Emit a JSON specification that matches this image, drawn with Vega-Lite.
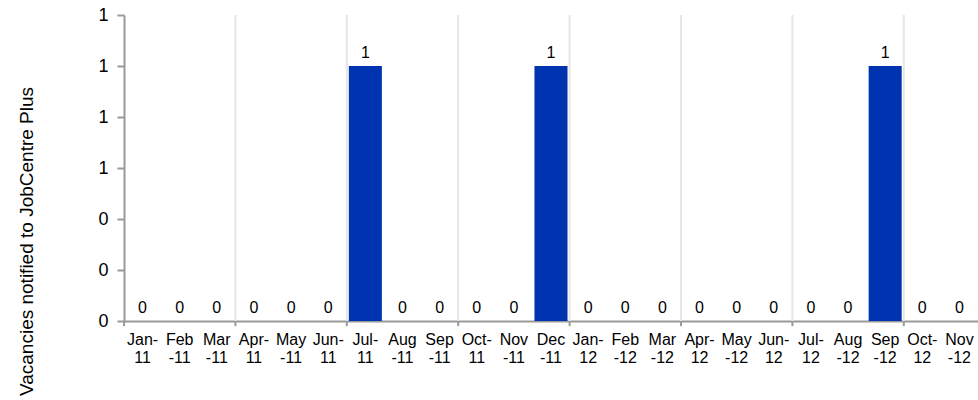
{
  "$schema": "https://vega.github.io/schema/vega-lite/v6.json",
  "width": 854,
  "height": 306,
  "autosize": {"type": "none"},
  "padding": {"left": 124, "top": 15, "right": 0, "bottom": 79},
  "background": "white",
  "config": {
    "view": {"stroke": null},
    "font": "Liberation Sans",
    "axis": {"labelFont": "Liberation Sans", "titleFont": "Liberation Sans", "labelColor": "#000", "titleColor": "#000"}
  },
  "data": {
    "values": [
      {"month": "Jan-11", "vacancies": 0},
      {"month": "Feb-11", "vacancies": 0},
      {"month": "Mar-11", "vacancies": 0},
      {"month": "Apr-11", "vacancies": 0},
      {"month": "May-11", "vacancies": 0},
      {"month": "Jun-11", "vacancies": 0},
      {"month": "Jul-11", "vacancies": 1},
      {"month": "Aug-11", "vacancies": 0},
      {"month": "Sep-11", "vacancies": 0},
      {"month": "Oct-11", "vacancies": 0},
      {"month": "Nov-11", "vacancies": 0},
      {"month": "Dec-11", "vacancies": 1},
      {"month": "Jan-12", "vacancies": 0},
      {"month": "Feb-12", "vacancies": 0},
      {"month": "Mar-12", "vacancies": 0},
      {"month": "Apr-12", "vacancies": 0},
      {"month": "May-12", "vacancies": 0},
      {"month": "Jun-12", "vacancies": 0},
      {"month": "Jul-12", "vacancies": 0},
      {"month": "Aug-12", "vacancies": 0},
      {"month": "Sep-12", "vacancies": 1},
      {"month": "Oct-12", "vacancies": 0},
      {"month": "Nov-12", "vacancies": 0}
    ]
  },
  "layer": [
    {
      "transform": [{"filter": "indexof(['Apr-11','Jul-11','Oct-11','Jan-12','Apr-12','Jul-12','Oct-12'], datum.month) >= 0"}],
      "mark": {"type": "rule", "color": "#e6e6e6", "strokeWidth": 2, "xOffset": -2},
      "encoding": {
        "x": {"field": "month", "type": "nominal", "bandPosition": 0}
      }
    },
    {
      "transform": [{"filter": "indexof(['Jan-11','Apr-11','Jul-11','Oct-11','Jan-12','Apr-12','Jul-12','Oct-12'], datum.month) >= 0"}],
      "mark": {"type": "rule", "color": "#999999", "strokeWidth": 2, "xOffset": -2},
      "encoding": {
        "x": {"field": "month", "type": "nominal", "bandPosition": 0},
        "y": {"datum": -0.02},
        "y2": {"datum": 0}
      }
    },
    {
      "mark": {"type": "bar", "color": "#0033b0"},
      "encoding": {
        "x": {
          "field": "month",
          "type": "nominal",
          "scale": {
            "domain": ["Jan-11","Feb-11","Mar-11","Apr-11","May-11","Jun-11","Jul-11","Aug-11","Sep-11","Oct-11","Nov-11","Dec-11","Jan-12","Feb-12","Mar-12","Apr-12","May-12","Jun-12","Jul-12","Aug-12","Sep-12","Oct-12","Nov-12"],
            "paddingInner": 0.11,
            "paddingOuter": 0.055
          },
          "axis": {
            "title": null,
            "labelAngle": 0,
            "labelAlign": "center",
            "labelFontSize": 16,
            "labelLineHeight": 18,
            "labelPadding": 10,
            "labelBaseline": "top",
            "labelExpr": "indexof(['Jan','Apr','Jun','Jul','Oct'], slice(datum.value,0,3)) >= 0 ? [slice(datum.value,0,4), slice(datum.value,4)] : [slice(datum.value,0,3), slice(datum.value,3)]",
            "domainColor": "#999999",
            "domainWidth": 2,
            "ticks": false,
            "grid": false
          }
        },
        "y": {
          "field": "vacancies",
          "type": "quantitative",
          "scale": {"domain": [0, 1.2], "nice": false},
          "axis": {
            "title": "Vacancies notified to JobCentre Plus",
            "titleFontSize": 19,
            "titleFontWeight": "normal",
            "titleX": -98,
            "titleY": 226,
            "titleAlign": "center",
            "titleBaseline": "middle",
            "titleAngle": -90,
            "values": [0, 0.2, 0.4, 0.6, 0.8, 1.0, 1.2],
            "format": ".0f",
            "labelFontSize": 18,
            "labelPadding": 9,
            "grid": false,
            "domainColor": "#999999",
            "domainWidth": 2,
            "tickColor": "#999999",
            "tickWidth": 2,
            "tickSize": 7
          }
        }
      }
    },
    {
      "mark": {"type": "text", "baseline": "alphabetic", "dy": -8, "fontSize": 16, "color": "#000"},
      "encoding": {
        "x": {"field": "month", "type": "nominal"},
        "y": {"field": "vacancies", "type": "quantitative"},
        "text": {"field": "vacancies", "type": "quantitative"}
      }
    }
  ]
}
